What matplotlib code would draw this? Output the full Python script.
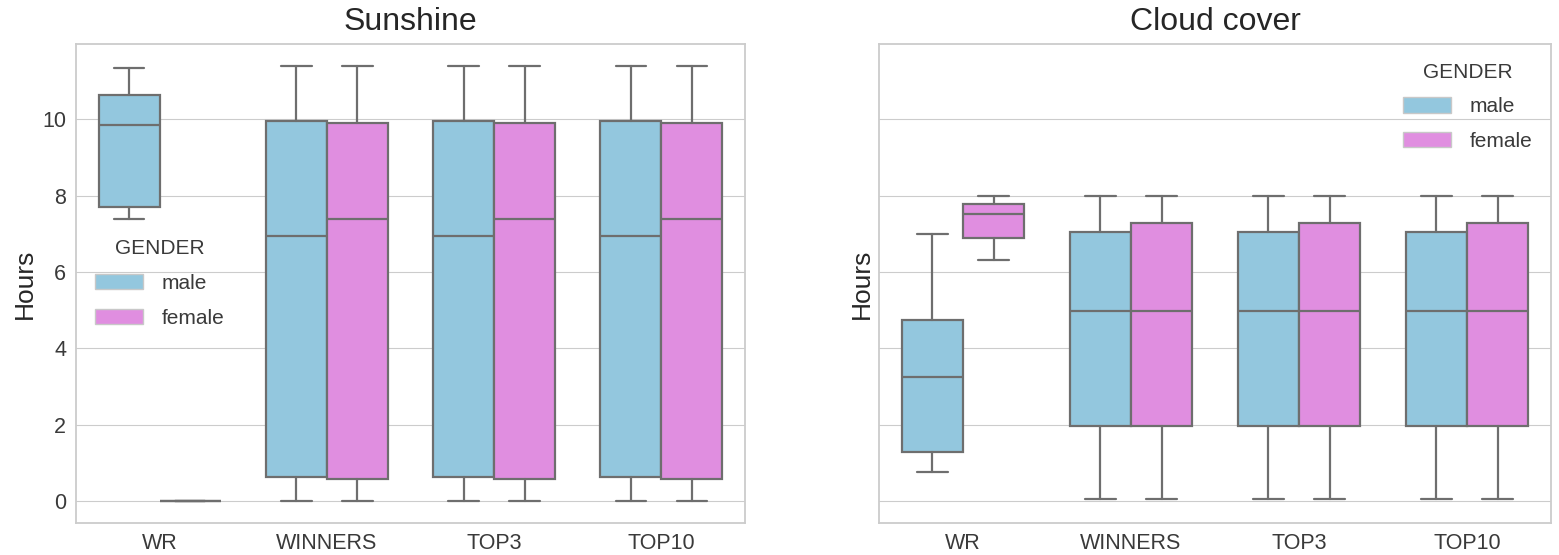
import matplotlib.pyplot as plt
import seaborn as sns

sns.set_style("whitegrid")
plt.rcParams['font.family'] = ['Liberation Sans', 'DejaVu Sans']

categories = ["WR", "WINNERS", "TOP3", "TOP10"]
genders = ["male", "female"]
colors = {"male": "#93c7de", "female": "#e08ee0"}

# box statistics per category: (whislo, q1, med, q3, whishi)
sun_male_lo = [7.40, 0.0, 0.0, 0.0]
sun_male_q1 = [7.70, 0.64, 0.64, 0.64]
sun_male_med = [9.84, 6.94, 6.94, 6.94]
sun_male_q3 = [10.64, 9.96, 9.96, 9.96]
sun_male_hi = [11.34, 11.40, 11.40, 11.40]

sun_female_lo = [0.0, 0.0, 0.0, 0.0]
sun_female_q1 = [0.0, 0.57, 0.57, 0.57]
sun_female_med = [0.0, 7.40, 7.40, 7.40]
sun_female_q3 = [0.0, 9.89, 9.89, 9.89]
sun_female_hi = [0.0, 11.40, 11.40, 11.40]

cloud_male_lo = [0.76, 0.05, 0.05, 0.05]
cloud_male_q1 = [1.29, 1.97, 1.97, 1.97]
cloud_male_med = [3.25, 4.97, 4.97, 4.97]
cloud_male_q3 = [4.75, 7.05, 7.05, 7.05]
cloud_male_hi = [7.00, 8.00, 8.00, 8.00]

cloud_female_lo = [6.31, 0.05, 0.05, 0.05]
cloud_female_q1 = [6.88, 1.97, 1.97, 1.97]
cloud_female_med = [7.53, 4.97, 4.97, 4.97]
cloud_female_q3 = [7.77, 7.29, 7.29, 7.29]
cloud_female_hi = [8.00, 8.00, 8.00, 8.00]

sunshine = {
    "male": (sun_male_lo, sun_male_q1, sun_male_med, sun_male_q3, sun_male_hi),
    "female": (sun_female_lo, sun_female_q1, sun_female_med, sun_female_q3, sun_female_hi),
}
cloud = {
    "male": (cloud_male_lo, cloud_male_q1, cloud_male_med, cloud_male_q3, cloud_male_hi),
    "female": (cloud_female_lo, cloud_female_q1, cloud_female_med, cloud_female_q3, cloud_female_hi),
}

line_color = "#6e6e6e"
box_w = 0.365


def draw(ax, data, title):
    for k, g in enumerate(genders):
        lo, q1, med, q3, hi = data[g]
        stats = [dict(whislo=lo[i], q1=q1[i], med=med[i], q3=q3[i], whishi=hi[i], fliers=[])
                 for i in range(len(categories))]
        offset = (k - 0.5) * box_w
        pos = [i + offset for i in range(len(categories))]
        ax.bxp(stats, positions=pos, widths=box_w, patch_artist=True,
               boxprops=dict(facecolor=colors[g], edgecolor=line_color, linewidth=1.6),
               medianprops=dict(color=line_color, linewidth=1.6),
               whiskerprops=dict(color=line_color, linewidth=1.6),
               capprops=dict(color=line_color, linewidth=1.6),
               manage_ticks=False, label=g)
    ax.set_xticks(range(len(categories)))
    ax.set_xticklabels(categories)
    ax.set_xlim(-0.5, len(categories) - 0.5)
    ax.grid(axis="x", visible=False)
    ax.set_title(title, fontsize=23, pad=10, color="#262626")
    ax.set_ylabel("Hours", fontsize=19, color="#262626")
    ax.tick_params(labelsize=15.5, colors="#3a3a3a")
    for s in ax.spines.values():
        s.set_color("#cccccc")
        s.set_linewidth(1.3)


def legend(ax, **kw):
    leg = ax.legend(title="GENDER", frameon=False, fontsize=15, title_fontsize=15,
                    handlelength=2.3, handleheight=0.75, labelspacing=0.75,
                    handletextpad=0.9, labelcolor="#3a3a3a", **kw)
    leg.get_title().set_color("#3a3a3a")
    for h in leg.legend_handles:
        h.set_edgecolor("#c8c8c8")
        h.set_linewidth(1.0)
    return leg


fig = plt.figure(figsize=(15.59, 5.55), dpi=100)
bottom = 32 / 555
height = (523 - 44) / 555
ax1 = fig.add_axes([76 / 1559, bottom, 669 / 1559, height])
ax2 = fig.add_axes([879 / 1559, bottom, 672 / 1559, height], sharey=ax1)

draw(ax1, sunshine, "Sunshine")
draw(ax2, cloud, "Cloud cover")
ax1.set_ylim(-0.57, 11.97)
ax1.set_yticks([0, 2, 4, 6, 8, 10])
ax2.tick_params(axis="y", labelleft=False)

legend(ax1, loc="center left", bbox_to_anchor=(0.0, 0.5))
legend(ax2, loc="upper right")

plt.savefig("out.png")
